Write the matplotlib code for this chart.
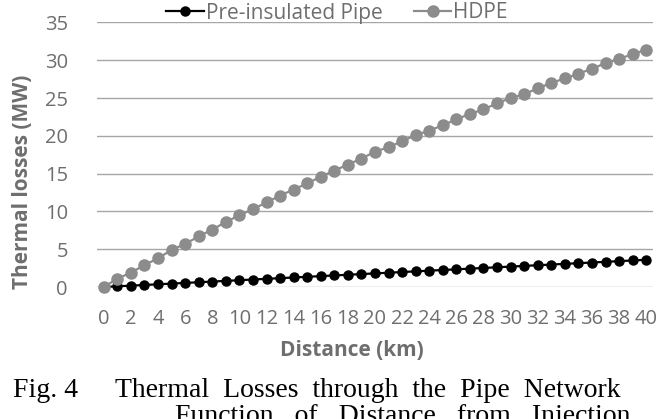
import matplotlib
matplotlib.use("Agg")
import matplotlib.pyplot as plt

distance = list(range(0, 41))
pre_insulated = [0, 0.09, 0.18, 0.27, 0.36, 0.45, 0.54, 0.63, 0.72, 0.81,
                 0.90, 0.99, 1.08, 1.17, 1.26, 1.35, 1.44, 1.53, 1.62, 1.71,
                 1.80, 1.89, 1.98, 2.07, 2.16, 2.25, 2.34, 2.43, 2.52, 2.61,
                 2.70, 2.79, 2.88, 2.97, 3.06, 3.15, 3.24, 3.33, 3.42, 3.51,
                 3.60]
hdpe = [0, 1.1, 1.9, 2.9, 3.8, 4.9, 5.7, 6.7, 7.6, 8.6,
        9.5, 10.3, 11.2, 12.1, 12.9, 13.7, 14.6, 15.4, 16.2, 17.0,
        17.9, 18.5, 19.3, 20.1, 20.7, 21.4, 22.2, 22.9, 23.5, 24.3,
        25.0, 25.5, 26.3, 27.0, 27.6, 28.2, 28.9, 29.6, 30.2, 30.8,
        31.4]
y_ticks = [0, 5, 10, 15, 20, 25, 30, 35]
x_ticks = distance[::2]

W, H = 661, 419
label_gray = "#6e6e6e"
plt.rcParams["font.family"] = ["Open Sans", "DejaVu Sans"]

fig = plt.figure(figsize=(W / 100, H / 100), dpi=100)
ax = fig.add_axes([97 / W, 1 - 287 / H, 556 / W, 264.5 / H])

ax.plot(distance, pre_insulated, color="black", marker="o", ms=6.5,
        lw=1.6, label="Pre-insulated Pipe", zorder=3, clip_on=False)
ax.plot(distance, hdpe, color="#8c8c8c", marker="o", ms=8,
        lw=1.6, label="HDPE", zorder=4, clip_on=False)

ax.set_xlim(-0.5, 40.5)
ax.set_ylim(0, 35)
ax.set_yticks(y_ticks)
ax.set_xticks(x_ticks)
ax.grid(axis="y", color="#a6a6a6", lw=1)
ax.set_axisbelow(True)
for s in ax.spines.values():
    s.set_visible(False)
ax.tick_params(length=0, labelsize=14.5, labelcolor=label_gray)
ax.tick_params(axis="y", pad=21)
ax.tick_params(axis="x", pad=16)

ax.set_xlabel("Distance (km)", fontsize=15, fontweight="bold",
              color=label_gray)
ax.xaxis.set_label_coords((352 - 97) / 556, -(340 - 287) / 264.5)
ax.set_ylabel("Thermal losses (MW)", fontsize=15, fontweight="bold",
              color=label_gray)
ax.yaxis.set_label_coords(-(97 - 33) / 556, (287 - 182) / 264.5)

ax.legend(loc="center", bbox_to_anchor=((337 - 97) / 556, 1 + 9.5 / 264.5),
          ncol=2, frameon=False, fontsize=15, handlelength=1.8,
          handletextpad=0.1, columnspacing=1.5, borderpad=0,
          labelcolor=label_gray)

fig.text(13 / W, 1 - 397 / H, "Fig. 4", family="Liberation Serif",
         fontsize=20, va="baseline")
fig.text(115 / W, 1 - 397 / H, "Thermal  Losses  through  the  Pipe  Network",
         family="Liberation Serif", fontsize=20, va="baseline")
fig.text(175 / W, 1 - 423 / H, "Function   of   Distance   from   Injection",
         family="Liberation Serif", fontsize=20, va="baseline")

fig.savefig("out.png", dpi=100)
